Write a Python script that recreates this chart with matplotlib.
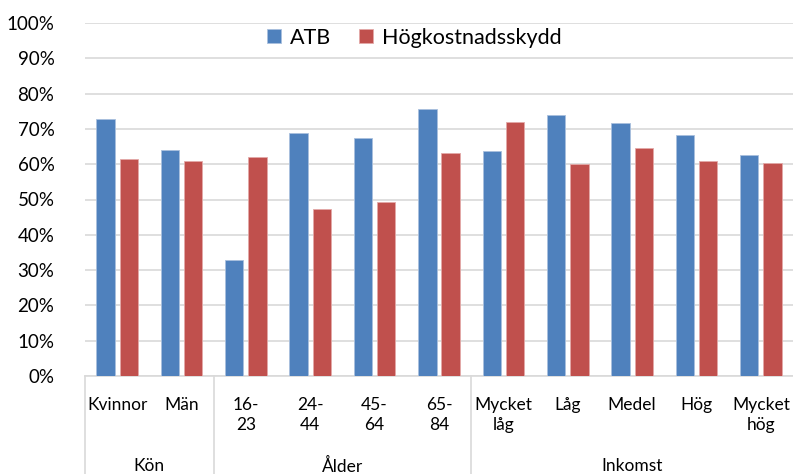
import numpy as np
import matplotlib.pyplot as plt
from matplotlib.ticker import PercentFormatter

plt.rcParams['font.family'] = ['Lato', 'DejaVu Sans']

kategorier = ['Kvinnor', 'Män', '16-\n23', '24-\n44', '45-\n64', '65-\n84',
              'Mycket\nlåg', 'Låg', 'Medel', 'Hög', 'Mycket\nhög']
grupper = ['Kön', 'Ålder', 'Inkomst']
grupp_storlek = [2, 4, 5]
atb = [72.8, 63.9, 32.9, 68.9, 67.5, 75.5, 63.6, 73.9, 71.7, 68.4, 62.5]
hogkostnad = [61.4, 61.0, 62.1, 47.2, 49.3, 63.2, 72.0, 60.1, 64.7, 60.8, 60.2]

blue = '#4f81bd'
red = '#c0504d'

fig = plt.figure(figsize=(7.93, 4.74), dpi=100)
ax = fig.add_axes([85/793, 1-376/474, 708/793, 353/474])

x = np.arange(len(kategorier))
w = 0.285
off = 0.181
ax.bar(x-off, atb, w, color=blue, edgecolor='#a9c0de', linewidth=0.6, label='ATB', zorder=3)
ax.bar(x+off, hogkostnad, w, color=red, edgecolor='#e3a9a8', linewidth=0.6, label='Högkostnadsskydd', zorder=3)

ax.set_xlim(-0.5, len(kategorier)-0.5)
ax.set_ylim(0, 100)
ax.set_yticks(np.arange(0, 101, 10))
ax.yaxis.set_major_formatter(PercentFormatter(decimals=0))
ax.grid(axis='y', color='#d9d9d9', linewidth=1.2, zorder=0)
for s in ['top', 'right', 'left']:
    ax.spines[s].set_visible(False)
ax.spines['bottom'].set_color('#d9d9d9')
ax.spines['bottom'].set_linewidth(1.2)
ax.tick_params(axis='y', length=0, pad=22, labelsize=13.5)
ax.set_xticks(x)
ax.set_xticklabels(kategorier, fontsize=12.5, linespacing=1.3, va='top')
ax.tick_params(axis='x', length=0, pad=15)

# gruppindelning under axeln
trans = ax.get_xaxis_transform()
grans = np.concatenate([[0], np.cumsum(grupp_storlek)]) - 0.5
for g in grans[:-1]:
    ax.plot([g, g], [0, -0.28], transform=trans, color='#d9d9d9', lw=1.2, clip_on=False)
for i, namn in enumerate(grupper):
    mitt = (grans[i] + grans[i+1]) / 2
    ax.text(mitt, -0.255, namn, transform=trans, ha='center', va='center', fontsize=12.5)

ax.legend(loc='center', bbox_to_anchor=(0.465, 0.958), ncol=2, frameon=False,
          fontsize=15.5, handlelength=0.65, handleheight=0.65, columnspacing=1.3,
          handletextpad=0.4, borderpad=0)

plt.savefig('out.png', dpi=100)
